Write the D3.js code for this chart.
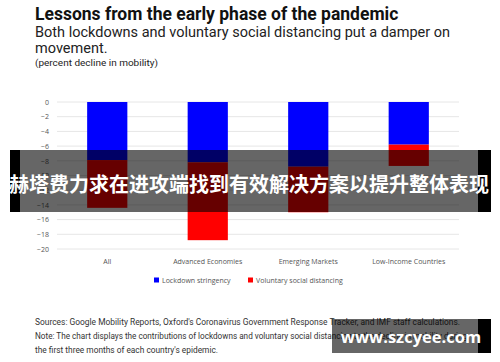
<!DOCTYPE html>
<html>
<head>
<meta charset="utf-8">
<script src="https://d3js.org/d3.v7.min.js"></script>
<style>
  body { margin: 0; background: #fff; }
  svg { display: block; }
</style>
</head>
<body>
<svg id="chart"></svg>
<script>
// chart values
const categories = ["All", "Advanced Economies", "Emerging Markets", "Low-Income Countries"];
const lockdown = [-7.9, -8.2, -8.8, -5.8];
const voluntary = [-6.5, -10.6, -6.2, -2.9];
const yTicks = [0, -2, -4, -6, -8, -10, -12, -14, -16, -18, -20];
const seriesNames = ["Lockdown stringency", "Voluntary social distancing"];
const seriesColors = ["#0000ff", "#ff0000"];

const width = 500, height = 362;
const svg = d3.select("#chart").attr("width", width).attr("height", height);

// titles
svg.append("text").attr("x", 35).attr("y", 20)
  .style("font", "bold 17.5px Roboto, sans-serif").attr("fill", "#111")
  .text("Lessons from the early phase of the pandemic");
svg.append("text").attr("x", 35).attr("y", 37)
  .style("font", "14.5px Roboto, sans-serif").attr("fill", "#222")
  .text("Both lockdowns and voluntary social distancing put a damper on");
svg.append("text").attr("x", 35).attr("y", 53)
  .style("font", "14.5px Roboto, sans-serif").attr("fill", "#222")
  .text("movement.");
svg.append("text").attr("x", 35).attr("y", 66)
  .style("font", "9px Roboto, sans-serif").attr("fill", "#222")
  .attr("textLength", 123).attr("lengthAdjust", "spacingAndGlyphs")
  .text("(percent decline in mobility)");

// scales
const x = d3.scaleBand().domain(categories).range([57, 459]).paddingInner(0.6).paddingOuter(0.3);
const y = d3.scaleLinear().domain([-20, 0]).range([249, 102]);

const grid = svg.append("g");
grid.selectAll("line").data(yTicks).join("line")
  .attr("x1", 57).attr("x2", 459)
  .attr("y1", d => y(d)).attr("y2", d => y(d))
  .attr("stroke", "#e6e6e6").attr("stroke-width", 1);

const yAxis = svg.append("g").attr("transform", "translate(50,0)")
  .call(d3.axisLeft(y).tickValues(yTicks).tickSize(0).tickPadding(1));
yAxis.select(".domain").remove();
yAxis.selectAll("text").style("font", "7px 'Open Sans', sans-serif").attr("fill", "#555");

// bars
const bars = svg.append("g");
bars.selectAll(".lock").data(categories).join("rect").attr("class", "lock")
  .attr("x", d => x(d)).attr("width", x.bandwidth())
  .attr("y", y(0)).attr("height", (d, i) => y(lockdown[i]) - y(0))
  .attr("fill", seriesColors[0]);
bars.selectAll(".vol").data(categories).join("rect").attr("class", "vol")
  .attr("x", d => x(d)).attr("width", x.bandwidth())
  .attr("y", (d, i) => y(lockdown[i]))
  .attr("height", (d, i) => y(lockdown[i] + voluntary[i]) - y(lockdown[i]))
  .attr("fill", seriesColors[1]);

// x labels
svg.append("g").selectAll("text").data(categories).join("text")
  .attr("x", d => x(d) + x.bandwidth() / 2).attr("y", 264)
  .attr("text-anchor", "middle")
  .style("font", "7px 'Open Sans', sans-serif").attr("fill", "#555")
  .text(d => d);

// legend
const legendX = [154, 248];
const legend = svg.append("g").selectAll("g").data(seriesNames).join("g")
  .attr("transform", (d, i) => `translate(${legendX[i]},280)`);
legend.append("rect").attr("x", 0).attr("y", -2.5).attr("width", 5).attr("height", 5)
  .attr("fill", (d, i) => seriesColors[i]);
legend.append("text").attr("x", 8).attr("y", 2.5)
  .style("font", "7px 'Open Sans', sans-serif").attr("fill", "#555")
  .text(d => d);

// footnotes
const notes = [
  "Sources: Google Mobility Reports, Oxford's Coronavirus Government Response Tracker, and IMF staff calculations.",
  "Note: The chart displays the contributions of lockdowns and voluntary social distancing to the decline in mobility during",
  "the first three months of each country's epidemic."
];
const noteLen = [425, 432, 183];
svg.append("g").selectAll("text").data(notes).join("text")
  .attr("x", 35).attr("y", (d, i) => 325 + i * 14)
  .style("font", "9px Roboto, sans-serif").attr("fill", "#333")
  .attr("textLength", (d, i) => noteLen[i]).attr("lengthAdjust", "spacingAndGlyphs")
  .text(d => d);

// overlay banner
svg.append("rect").attr("x", 10).attr("y", 150).attr("width", 10).attr("height", 62).attr("fill", "#000");
svg.append("rect").attr("x", 478).attr("y", 150).attr("width", 13).attr("height", 62).attr("fill", "#000");
svg.append("rect").attr("x", 20).attr("y", 150).attr("width", 458).attr("height", 62).attr("fill", "rgba(0,0,0,0.6)");
svg.append("text").attr("x", 249).attr("y", 192).attr("text-anchor", "middle")
  .style("font", "bold 20px 'Noto Sans CJK SC', sans-serif").attr("fill", "#fff")
  .text("赫塔费力求在进攻端找到有效解决方案以提升整体表现");

// watermark
svg.append("rect").attr("x", 478).attr("y", 319).attr("width", 13).attr("height", 34).attr("fill", "#000");
svg.append("rect").attr("x", 332).attr("y", 319).attr("width", 146).attr("height", 34).attr("fill", "rgba(0,0,0,0.6)");
svg.append("text").attr("x", 411).attr("y", 343).attr("text-anchor", "middle")
  .style("font", "bold 16.5px 'Open Sans', sans-serif").attr("fill", "#fff")
  .text("www.szcyee.com");
</script>
</body>
</html>
